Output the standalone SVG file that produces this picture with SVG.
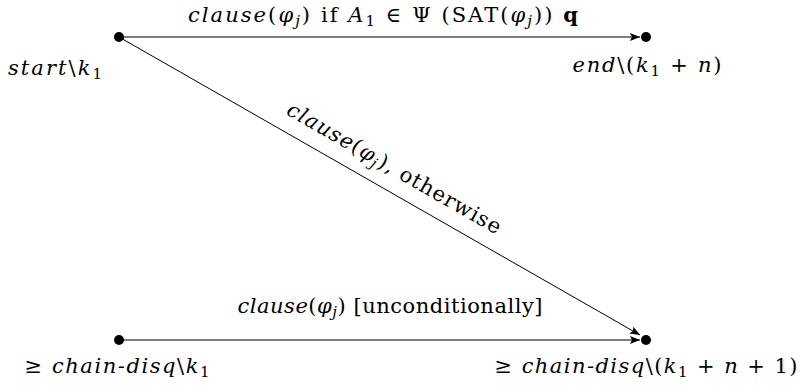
<svg xmlns="http://www.w3.org/2000/svg" width="800" height="385" viewBox="0 0 800 385">
<style>
text{font-family:"DejaVu Serif","Liberation Serif",serif;font-size:21px;fill:#000}
.i{font-style:italic}
.b{font-weight:bold}
.s{font-size:15px}
.e{stroke:#000;stroke-width:1.2;fill:none}
.d{stroke-width:1}
</style>
<defs>
<marker id="ah" viewBox="0 0 10 8" refX="10" refY="4" markerWidth="10" markerHeight="8" markerUnits="userSpaceOnUse" orient="auto">
<path d="M0,0 L10,4 L0,8 L2,4 Z" fill="#000"/>
</marker>
</defs>
<g id="edges">
<line class="e" x1="119" y1="37" x2="640" y2="37" marker-end="url(#ah)"/>
<line class="e d" x1="119" y1="37" x2="640" y2="335" marker-end="url(#ah)"/>
<line class="e" x1="119" y1="340" x2="640" y2="340" marker-end="url(#ah)"/>
<text x="383" y="22" text-anchor="middle" textLength="390" lengthAdjust="spacing"><tspan class="i">clause</tspan>(<tspan class="i">φ</tspan><tspan class="i s" dy="4">j</tspan><tspan dy="-4">) if </tspan><tspan class="i">A</tspan><tspan class="s" dy="4">1</tspan><tspan dy="-4"> ∈ Ψ (SAT(</tspan><tspan class="i">φ</tspan><tspan class="i s" dy="4">j</tspan><tspan dy="-4">)) </tspan><tspan class="b">q</tspan></text>
<g transform="translate(119,37) rotate(29.8)">
<text x="304" y="-16" text-anchor="middle" textLength="243" lengthAdjust="spacing"><tspan class="i">clause</tspan>(<tspan class="i">φ</tspan><tspan class="i s" dy="4">j</tspan><tspan dy="-4">), otherwise</tspan></text>
</g>
<text x="390" y="313" text-anchor="middle" textLength="305" lengthAdjust="spacing"><tspan class="i">clause</tspan>(<tspan class="i">φ</tspan><tspan class="i s" dy="4">j</tspan><tspan dy="-4">) [unconditionally]</tspan></text>
</g>
<g id="start">
<circle cx="119" cy="37" r="5"/>
<text x="55" y="75" text-anchor="middle" textLength="94" lengthAdjust="spacing"><tspan class="i">start</tspan>\<tspan class="i">k</tspan><tspan class="s" dy="4">1</tspan></text>
</g>
<g id="end">
<circle cx="646" cy="37" r="5"/>
<text x="647" y="72" text-anchor="middle" textLength="149" lengthAdjust="spacing"><tspan class="i">end</tspan>\(<tspan class="i">k</tspan><tspan class="s" dy="4">1</tspan><tspan dy="-4"> + </tspan><tspan class="i">n</tspan>)</text>
</g>
<g id="chain1">
<circle cx="119" cy="340" r="5"/>
<text x="117" y="373" text-anchor="middle" textLength="185" lengthAdjust="spacing">≥ <tspan class="i">chain-disq</tspan>\<tspan class="i">k</tspan><tspan class="s" dy="4">1</tspan></text>
</g>
<g id="chain2">
<circle cx="646" cy="340" r="5"/>
<text x="646" y="373" text-anchor="middle" textLength="303" lengthAdjust="spacing">≥ <tspan class="i">chain-disq</tspan>\(<tspan class="i">k</tspan><tspan class="s" dy="4">1</tspan><tspan dy="-4"> + </tspan><tspan class="i">n</tspan> + 1)</text>
</g>
</svg>
